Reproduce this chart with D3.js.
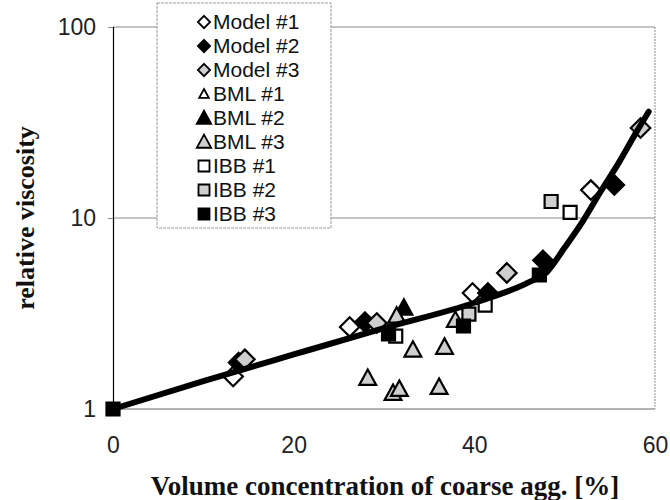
<!DOCTYPE html>
<html>
<head>
<meta charset="utf-8">
<script src="https://cdn.jsdelivr.net/npm/d3@7"></script>
<style>
  html, body { margin: 0; padding: 0; background: #fff; }
  svg { display: block; }
</style>
</head>
<body>
<svg id="chart" width="670" height="500"></svg>
<script>
// Measured relative viscosity vs. coarse aggregate volume concentration
const model1X = [13.3, 26.2, 39.8, 52.9];
const model1Y = [1.48, 2.69, 4.05, 14.0];
const model2X = [13.9, 27.9, 41.5, 47.6, 55.5];
const model2Y = [1.75, 2.85, 4.05, 6.0, 14.9];
const model3X = [14.6, 29.2, 43.6, 58.4];
const model3Y = [1.82, 2.82, 5.16, 29.6];
const bml1X = [];
const bml1Y = [];
const bml2X = [32.2];
const bml2Y = [3.38];
const bml3X = [28.2, 31.0, 31.4, 31.7, 33.2, 36.1, 36.7, 37.9];
const bml3Y = [1.45, 1.21, 3.07, 1.27, 2.04, 1.30, 2.11, 2.92];
const ibb1X = [31.3, 41.2, 50.6];
const ibb1Y = [2.41, 3.5, 10.7];
const ibb2X = [39.4, 48.5];
const ibb2Y = [3.14, 12.2];
const ibb3X = [0, 30.5, 38.8, 47.2];
const ibb3Y = [1, 2.47, 2.72, 5.03];

// Fitted model curve
const curveX = [0, 10, 20, 30, 40, 46, 48, 50, 52, 54, 56, 58, 59.3];
const curveY = [1, 1.4, 1.93, 2.65, 3.6, 4.6, 5.2, 7.0, 9.6, 13.8, 19.5, 28.5, 36];

const xTicks = [0, 20, 40, 60];
const yTicks = [1, 10, 100];

const seriesNames = ["Model #1", "Model #2", "Model #3", "BML #1", "BML #2", "BML #3", "IBB #1", "IBB #2", "IBB #3"];

const GRAY = "#cfcfcf";
const seriesStyle = [
  { shape: "diamond", fill: "#fff", size: 13.5, lsize: 8.5 },
  { shape: "diamond", fill: "#000", size: 13.5, lsize: 8.5 },
  { shape: "diamond", fill: GRAY, size: 13.5, lsize: 8.5 },
  { shape: "triangle", fill: "#fff", size: 11, lsize: 8 },
  { shape: "triangle", fill: "#000", size: 14, lsize: 12 },
  { shape: "triangle", fill: GRAY, size: 14, lsize: 12 },
  { shape: "square", fill: "#fff", size: 13, lsize: 11 },
  { shape: "square", fill: GRAY, size: 13, lsize: 11 },
  { shape: "square", fill: "#000", size: 13, lsize: 11 }
];
const seriesData = [
  [model1X, model1Y], [model2X, model2Y], [model3X, model3Y],
  [bml1X, bml1Y], [bml2X, bml2Y], [bml3X, bml3Y],
  [ibb1X, ibb1Y], [ibb2X, ibb2Y], [ibb3X, ibb3Y]
];

const svg = d3.select("#chart");
const plotLeft = 113, plotRight = 655, plotTop = 27, plotBottom = 409;

const x = d3.scaleLinear().domain([0, 60]).range([plotLeft, plotRight]);
const y = d3.scaleLog().domain([1, 100]).range([plotBottom, plotTop]);

// grid lines and frame
const frame = svg.append("g");
frame.selectAll("line.grid").data([10, 100]).join("line")
  .attr("x1", plotLeft).attr("x2", plotRight)
  .attr("y1", d => y(d)).attr("y2", d => y(d))
  .attr("stroke", "#8a8a8a").attr("stroke-width", 1);
frame.append("line")
  .attr("x1", plotRight).attr("x2", plotRight).attr("y1", plotTop).attr("y2", plotBottom)
  .attr("stroke", "#8a8a8a").attr("stroke-width", 1).attr("stroke-dasharray", "2,1");
frame.append("line")
  .attr("x1", plotLeft).attr("x2", plotRight).attr("y1", plotBottom).attr("y2", plotBottom)
  .attr("stroke", "#9a9a9a").attr("stroke-width", 1.5);

// axes
const yAxis = svg.append("g")
  .attr("transform", `translate(${plotLeft},0)`)
  .call(d3.axisLeft(y).tickValues(yTicks).tickFormat(d3.format("d")).tickSize(5).tickPadding(12));
yAxis.select(".domain").attr("stroke", "#000").attr("stroke-width", 1.2);
yAxis.selectAll(".tick line").attr("stroke", "#888");
yAxis.selectAll("text")
  .attr("font-family", "Liberation Sans, Arial, sans-serif")
  .attr("font-size", 23).attr("fill", "#222");

const xAxis = svg.append("g")
  .attr("transform", `translate(0,${plotBottom})`)
  .call(d3.axisBottom(x).tickValues(xTicks).tickSize(0).tickPadding(28));
xAxis.select(".domain").remove();
xAxis.selectAll("text")
  .attr("font-family", "Liberation Sans, Arial, sans-serif")
  .attr("font-size", 23).attr("fill", "#222");

// markers
function symbolPath(shape, s) {
  if (shape === "triangle") {
    return `M0,${-s * 0.62}L${s * 0.6},${s * 0.48}L${-s * 0.6},${s * 0.48}Z`;
  }
  if (shape === "diamond") {
    return `M0,${-s * 0.72}L${s * 0.72},0L0,${s * 0.72}L${-s * 0.72},0Z`;
  }
  return `M${-s / 2},${-s / 2}h${s}v${s}h${-s}Z`;
}

const marks = svg.append("g");
seriesData.forEach(([xs, ys], i) => {
  const st = seriesStyle[i];
  const pts = xs.map((v, j) => [v, ys[j]]);
  marks.append("g").selectAll("path").data(pts).join("path")
    .attr("d", symbolPath(st.shape, st.size))
    .attr("transform", d => `translate(${x(d[0])},${y(d[1])})`)
    .attr("fill", st.fill)
    .attr("stroke", "#000")
    .attr("stroke-width", 2.2)
    .attr("stroke-linejoin", "miter");
});

// fitted curve
const line = d3.line()
  .x(d => x(d[0])).y(d => y(d[1]))
  .curve(d3.curveMonotoneX);
svg.append("path")
  .datum(curveX.map((v, i) => [v, curveY[i]]))
  .attr("d", line)
  .attr("fill", "none")
  .attr("stroke", "#000")
  .attr("stroke-width", 6)
  .attr("stroke-linecap", "round");

// legend
const legend = svg.append("g");
legend.append("rect")
  .attr("x", 157).attr("y", 3).attr("width", 174).attr("height", 225)
  .attr("fill", "#fff").attr("stroke", "#9a9a9a").attr("stroke-width", 1)
  .attr("stroke-dasharray", "3,1");
seriesNames.forEach((name, i) => {
  const st = seriesStyle[i];
  const cy = 21 + i * 24;
  legend.append("path")
    .attr("d", symbolPath(st.shape, st.lsize))
    .attr("transform", `translate(204,${cy + 1})`)
    .attr("fill", st.fill).attr("stroke", "#000").attr("stroke-width", 1.8);
  legend.append("text")
    .attr("x", 213).attr("y", cy).attr("dy", "0.36em")
    .attr("font-family", "Liberation Sans, Arial, sans-serif")
    .attr("font-size", 21).attr("fill", "#111")
    .text(name);
});

// axis titles
svg.append("text")
  .attr("x", 385).attr("y", 495)
  .attr("text-anchor", "middle")
  .attr("font-family", "Liberation Serif, Times New Roman, serif")
  .attr("font-weight", "bold").attr("font-size", 27).attr("fill", "#111")
  .text("Volume concentration of coarse agg. [%]");
svg.append("text")
  .attr("transform", "translate(34,218) rotate(-90)")
  .attr("text-anchor", "middle")
  .attr("font-family", "Liberation Serif, Times New Roman, serif")
  .attr("font-weight", "bold").attr("font-size", 26).attr("fill", "#111")
  .text("relative viscosity");
</script>
</body>
</html>
